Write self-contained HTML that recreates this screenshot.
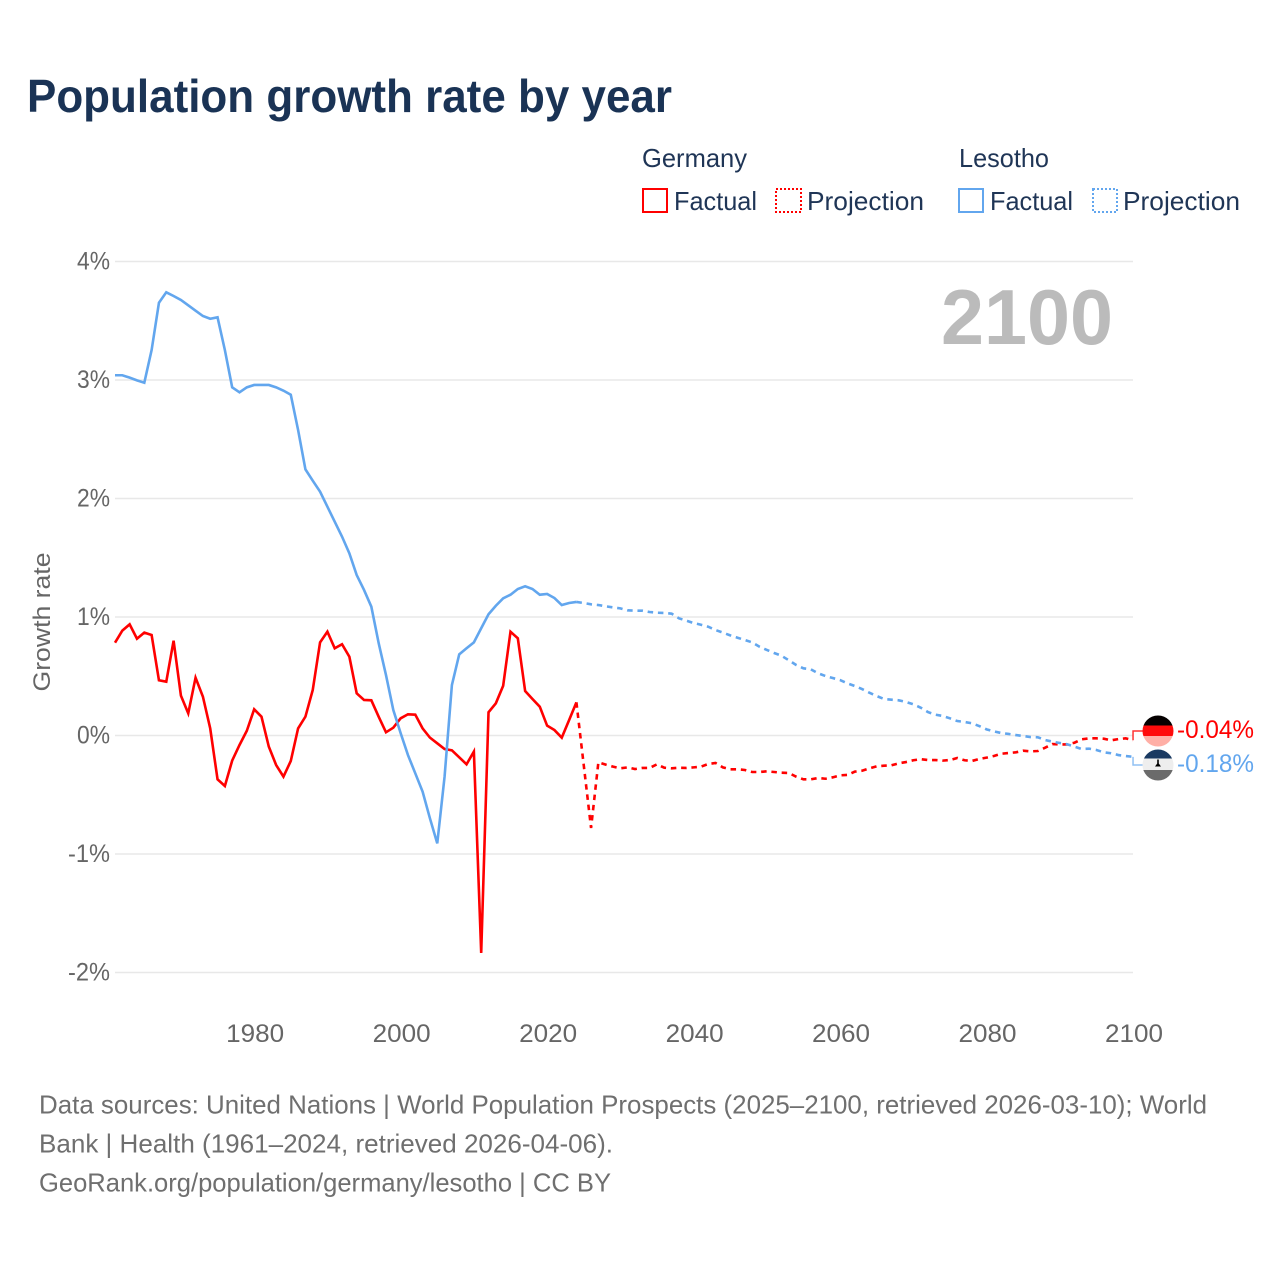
<!DOCTYPE html>
<html lang="en">
<head>
<meta charset="utf-8">
<title>Population growth rate by year</title>
<style>
html,body{margin:0;padding:0;background:#fff}
svg{display:block;font-family:"Liberation Sans",sans-serif}
</style>
</head>
<body>
<svg id="chart" xmlns="http://www.w3.org/2000/svg" width="1280" height="1280" viewBox="0 0 1280 1280">
  <rect width="1280" height="1280" fill="#ffffff"/>
  <text x="27" y="112" font-size="46" font-weight="700" fill="#1a3355" textLength="645" lengthAdjust="spacingAndGlyphs">Population growth rate by year</text>

  <g font-size="26" fill="#1f3556">
    <text x="642" y="167" textLength="105" lengthAdjust="spacingAndGlyphs">Germany</text>
    <text x="959" y="167" textLength="90" lengthAdjust="spacingAndGlyphs">Lesotho</text>
    <g>
      <rect x="643" y="189" width="24" height="23" fill="none" stroke="#ff0000" stroke-width="2"/>
      <text x="674" y="210" textLength="83" lengthAdjust="spacingAndGlyphs">Factual</text>
    </g>
    <g>
      <rect x="776" y="189" width="25" height="23" fill="none" stroke="#ff0000" stroke-width="2" stroke-dasharray="2 2"/>
      <text x="807" y="210" textLength="117" lengthAdjust="spacingAndGlyphs">Projection</text>
    </g>
    <g>
      <rect x="959" y="189" width="24" height="23" fill="none" stroke="#62a6ee" stroke-width="2"/>
      <text x="990" y="210" textLength="83" lengthAdjust="spacingAndGlyphs">Factual</text>
    </g>
    <g>
      <rect x="1093" y="189" width="24" height="23" fill="none" stroke="#62a6ee" stroke-width="2" stroke-dasharray="2 2"/>
      <text x="1123" y="210" textLength="117" lengthAdjust="spacingAndGlyphs">Projection</text>
    </g>
  </g>

  <g id="grid"></g>
  <g id="yticks"></g>
  <g id="xticks"></g>
  <text transform="translate(50,622) rotate(-90)" text-anchor="middle" font-size="24" fill="#666666" textLength="139" lengthAdjust="spacingAndGlyphs">Growth rate</text>
  <text x="941" y="344" font-size="78" font-weight="700" fill="#bbbbbb" textLength="172" lengthAdjust="spacingAndGlyphs">2100</text>

  <g id="series"></g>

  <g>
    <clipPath id="clip-de"><circle cx="1158" cy="731" r="15.5"/></clipPath>
    <g clip-path="url(#clip-de)">
      <rect x="1142" y="715" width="32" height="10.5" fill="#050000"/>
      <rect x="1142" y="725.5" width="32" height="10.5" fill="#ff0b0b"/>
      <rect x="1142" y="736" width="32" height="11" fill="#ffafa6"/>
    </g>
  </g>
  <g>
    <clipPath id="clip-ls"><circle cx="1158" cy="765" r="15.5"/></clipPath>
    <g clip-path="url(#clip-ls)">
      <rect x="1142" y="749" width="32" height="9.5" fill="#1a3a62"/>
      <rect x="1142" y="758.5" width="32" height="11.5" fill="#eeeeee"/>
      <rect x="1142" y="770" width="32" height="11" fill="#6b6b6b"/>
      <path d="M1157.2 759.5h1.6v4l2.2 3h-6l2.2-3z" fill="#000000"/>
    </g>
  </g>
  <text x="1177" y="738" font-size="25" fill="#ff0000" textLength="77" lengthAdjust="spacingAndGlyphs">-0.04%</text>
  <text x="1177" y="772" font-size="25" fill="#62a6ee" textLength="77" lengthAdjust="spacingAndGlyphs">-0.18%</text>

  <g font-size="26" fill="#6f6f6f">
    <text x="39" y="1113.5" textLength="1168" lengthAdjust="spacingAndGlyphs">Data sources: United Nations | World Population Prospects (2025–2100, retrieved 2026-03-10); World</text>
    <text x="39" y="1152.5" textLength="574" lengthAdjust="spacingAndGlyphs">Bank | Health (1961–2024, retrieved 2026-04-06).</text>
    <a><text x="39" y="1191.5" textLength="572" lengthAdjust="spacingAndGlyphs">GeoRank.org/population/germany/lesotho | CC BY</text></a>
  </g>
</svg>

<script>
const factualStartYear = 1961;
const projectionStartYear = 2025;
const xTickYears = [1980, 2000, 2020, 2040, 2060, 2080, 2100];
const yTickValues = [4, 3, 2, 1, 0, -1, -2];
const yTickLabels = ['4%', '3%', '2%', '1%', '0%', '-1%', '-2%'];

const germanyFactual = [
  0.783,0.885,0.938,0.817,0.868,0.848,0.466,0.454,0.80,0.336,
  0.187,0.488,0.328,0.06,-0.37,-0.426,-0.212,-0.08,0.04,0.221,
  0.159,-0.094,-0.249,-0.347,-0.215,0.06,0.159,0.384,0.786,0.876,
  0.736,0.77,0.665,0.356,0.30,0.297,0.159,0.027,0.066,0.145,
  0.179,0.176,0.06,-0.018,-0.066,-0.114,-0.125,-0.184,-0.243,-0.136,
  -1.835,0.196,0.272,0.42,0.876,0.82,0.375,0.308,0.243,0.083,
  0.046,-0.018,0.13,0.28
];
const germanyProjection = [
  -0.25,-0.78,-0.226,-0.246,-0.263,-0.277,-0.269,-0.283,-0.274,-0.274,
  -0.243,-0.272,-0.277,-0.272,-0.274,-0.269,-0.263,-0.24,-0.232,-0.269,
  -0.285,-0.285,-0.291,-0.308,-0.308,-0.302,-0.308,-0.314,-0.316,-0.347,
  -0.37,-0.37,-0.359,-0.365,-0.353,-0.336,-0.333,-0.305,-0.297,-0.277,
  -0.26,-0.255,-0.252,-0.235,-0.224,-0.209,-0.2,-0.207,-0.207,-0.212,
  -0.207,-0.19,-0.209,-0.215,-0.198,-0.187,-0.173,-0.154,-0.148,-0.142,
  -0.128,-0.134,-0.131,-0.103,-0.072,-0.075,-0.075,-0.061,-0.032,-0.024,
  -0.024,-0.027,-0.041,-0.03,-0.024,-0.04
];
const lesothoFactual = [
  3.04,3.04,3.02,2.997,2.977,3.253,3.652,3.74,3.709,3.675,
  3.63,3.585,3.54,3.517,3.529,3.253,2.938,2.896,2.938,2.958,
  2.958,2.958,2.938,2.91,2.876,2.578,2.246,2.15,2.058,1.931,
  1.804,1.678,1.537,1.354,1.228,1.087,0.78,0.51,0.215,0.02,
  -0.165,-0.319,-0.474,-0.699,-0.91,-0.347,0.426,0.685,0.736,0.786,
  0.905,1.023,1.095,1.158,1.188,1.236,1.259,1.236,1.188,1.194,
  1.16,1.101,1.118,1.127
];
const lesothoProjection = [
  1.118,1.107,1.101,1.09,1.081,1.073,1.056,1.053,1.053,1.042,
  1.036,1.034,1.028,0.989,0.969,0.949,0.935,0.918,0.89,0.868,
  0.845,0.825,0.806,0.786,0.749,0.722,0.696,0.673,0.635,0.595,
  0.567,0.559,0.525,0.502,0.485,0.468,0.44,0.418,0.392,0.361,
  0.333,0.308,0.302,0.297,0.283,0.263,0.235,0.198,0.176,0.165,
  0.145,0.122,0.114,0.103,0.08,0.052,0.035,0.021,0.013,0.004,
  -0.004,-0.013,-0.015,-0.038,-0.052,-0.063,-0.074,-0.094,-0.114,-0.111,
  -0.122,-0.142,-0.15,-0.165,-0.173,-0.18
];

const SVG_NS = 'http://www.w3.org/2000/svg';
const plotLeft = 115, plotRight = 1133;
const RED = '#ff0000', BLUE = '#62a6ee';
function xScale(year) { return plotLeft + (year - 1961) * 7.324; }
function yScale(value) { return 735.5 - value * 118.5; }
function make(tag, attrs, parent) {
  const el = document.createElementNS(SVG_NS, tag);
  for (const k in attrs) el.setAttribute(k, attrs[k]);
  parent.appendChild(el);
  return el;
}

const grid = document.getElementById('grid');
const yticks = document.getElementById('yticks');
const xticks = document.getElementById('xticks');
const series = document.getElementById('series');

yTickValues.forEach(function (v, i) {
  const line = make('line', {x1: plotLeft, x2: plotRight, y1: yScale(v), y2: yScale(v), stroke: '#e8e8e8', 'stroke-width': 1.4}, grid);
  
  
  const t = make('text', {x: 110, y: yScale(v) + 8, 'text-anchor': 'end', 'font-size': 25, fill: '#666666', textLength: yTickLabels[i].length === 2 ? 33 : 42, lengthAdjust: 'spacingAndGlyphs'}, yticks);
  
  
  t.textContent = yTickLabels[i];
});

xTickYears.forEach(function (year) {
  const t = make('text', {x: xScale(year) + 1, y: 1042, 'text-anchor': 'middle', 'font-size': 25, fill: '#666666', textLength: 58, lengthAdjust: 'spacingAndGlyphs'}, xticks);
  
  
  t.textContent = String(year);
});

function pathFrom(points) {
  return points.map(function (p, i) { return (i ? 'L' : 'M') + xScale(p[0]).toFixed(2) + ' ' + yScale(p[1]).toFixed(2); }).join('');
}
function factualPoints(values) {
  return values.map(function (v, i) { return [factualStartYear + i, v]; });
}
function projectionPoints(values, lastFactualValue) {
  const pts = [[projectionStartYear - 1, lastFactualValue]];
  values.forEach(function (v, i) { pts.push([projectionStartYear + i, v]); });
  return pts;
}

const germanyFactualLine = make('path', {d: pathFrom(factualPoints(germanyFactual)), fill: 'none', stroke: RED, 'stroke-width': 2.6, 'stroke-linejoin': 'miter'}, series);



const germanyProjectionLine = make('path', {d: pathFrom(projectionPoints(germanyProjection, germanyFactual[germanyFactual.length - 1])), fill: 'none', stroke: RED, 'stroke-width': 2.6, 'stroke-dasharray': '5.5 4.8'}, series);



const lesothoFactualLine = make('path', {d: pathFrom(factualPoints(lesothoFactual)), fill: 'none', stroke: BLUE, 'stroke-width': 2.6}, series);



const lesothoProjectionLine = make('path', {d: pathFrom(projectionPoints(lesothoProjection, lesothoFactual[lesothoFactual.length - 1])), fill: 'none', stroke: BLUE, 'stroke-width': 2.6, 'stroke-dasharray': '5.5 4.8'}, series);



const germanyConnector = make('path', {d: 'M' + xScale(2100) + ' ' + yScale(germanyProjection[germanyProjection.length - 1]) + 'V731H1143', fill: 'none', stroke: RED, 'stroke-width': 1.5, opacity: 0.8}, series);



const lesothoConnector = make('path', {d: 'M' + xScale(2100) + ' ' + yScale(lesothoProjection[lesothoProjection.length - 1]) + 'V765H1143', fill: 'none', stroke: BLUE, 'stroke-width': 1.5, opacity: 0.7}, series);


</script>
</body>
</html>
